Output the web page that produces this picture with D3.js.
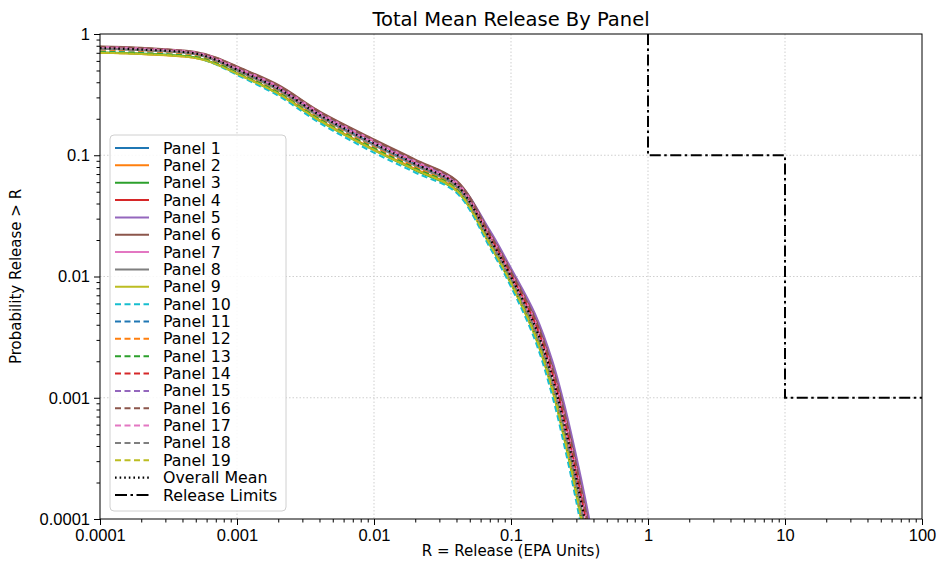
<!DOCTYPE html>
<html>
<head>
<meta charset="utf-8">
<script src="https://cdn.jsdelivr.net/npm/d3@7"></script>
<style>
  body { margin: 0; background: #fff; }
  svg { font-family: "DejaVu Sans", sans-serif; }
  .axis text { font-size: 16.5px; fill: #000; }
  .axis path { display: none; }
  .axis line { stroke: #000; stroke-width: 1; }
  .grid line { stroke: #cfcfcf; stroke-width: 1; stroke-dasharray: 1.5,2; }
</style>
</head>
<body>
<svg width="940" height="569"></svg>
<script>
// shared release grid (EPA units)
var releaseX = [1e-4, 2e-4, 5e-4, 7e-4, 1e-3, 2e-3, 4e-3, 1e-2, 2e-2, 4e-2, 7e-2, 0.1, 0.15, 0.2, 0.25, 0.3, 0.35, 0.4];

// probability release > R, one array per panel
var panel1  = [0.76, 0.74, 0.685, 0.608, 0.505, 0.35, 0.212, 0.123, 0.084, 0.056, 0.0196, 0.0094, 0.00358, 0.00133, 0.000485, 0.000188, 0.0000787, 0.0000353];
var panel2  = [0.70, 0.685, 0.635, 0.568, 0.475, 0.325, 0.196, 0.112, 0.077, 0.052, 0.0186, 0.00887, 0.0033, 0.0012, 0.000428, 0.000164, 0.0000677, 0.00003];
var panel3  = [0.705, 0.69, 0.64, 0.567, 0.47, 0.32, 0.192, 0.110, 0.075, 0.051, 0.0184, 0.0088, 0.00325, 0.00118, 0.00042, 0.00016, 0.000066, 0.000029];
var panel4  = [0.775, 0.755, 0.70, 0.627, 0.525, 0.365, 0.222, 0.130, 0.088, 0.059, 0.0217, 0.0105, 0.0042, 0.00165, 0.000624, 0.000248, 0.000106, 0.000048];
var panel5  = [0.78, 0.76, 0.70, 0.63, 0.53, 0.37, 0.225, 0.132, 0.090, 0.061, 0.024, 0.0117, 0.0049, 0.00203, 0.0008, 0.000326, 0.000143, 0.000065];
var panel6  = [0.79, 0.77, 0.71, 0.64, 0.54, 0.38, 0.23, 0.135, 0.092, 0.062, 0.023, 0.0111, 0.00455, 0.00183, 0.00071, 0.000284, 0.000123, 0.0000555];
var panel7  = [0.78, 0.76, 0.705, 0.632, 0.53, 0.37, 0.225, 0.131, 0.089, 0.060, 0.0222, 0.0107, 0.0043, 0.0017, 0.00065, 0.00026, 0.000111, 0.00005];
var panel8  = [0.755, 0.735, 0.68, 0.603, 0.50, 0.345, 0.208, 0.121, 0.082, 0.055, 0.0199, 0.0096, 0.00368, 0.00137, 0.0005, 0.000196, 0.000082, 0.000037];
var panel9  = [0.70, 0.685, 0.635, 0.565, 0.47, 0.32, 0.193, 0.110, 0.076, 0.051, 0.0183, 0.0087, 0.0032, 0.00116, 0.000412, 0.000157, 0.000064, 0.0000285];
var panel10 = [0.72, 0.70, 0.64, 0.561, 0.46, 0.31, 0.185, 0.105, 0.072, 0.049, 0.0174, 0.00824, 0.00297, 0.00104, 0.000364, 0.000138, 0.0000555, 0.000025];
var panel11 = [0.75, 0.73, 0.675, 0.598, 0.495, 0.34, 0.205, 0.119, 0.081, 0.054, 0.0193, 0.0092, 0.0035, 0.00129, 0.00047, 0.00018, 0.000075, 0.000034];
var panel12 = [0.745, 0.725, 0.67, 0.592, 0.49, 0.338, 0.203, 0.118, 0.080, 0.0535, 0.0191, 0.0091, 0.00345, 0.00126, 0.00046, 0.000176, 0.000073, 0.000033];
var panel13 = [0.71, 0.695, 0.645, 0.575, 0.48, 0.328, 0.198, 0.114, 0.078, 0.0525, 0.0188, 0.0089, 0.00335, 0.00122, 0.000438, 0.000168, 0.00007, 0.000031];
var panel14 = [0.77, 0.75, 0.695, 0.622, 0.52, 0.36, 0.22, 0.128, 0.087, 0.058, 0.0214, 0.0103, 0.0041, 0.0016, 0.0006, 0.00024, 0.000101, 0.000046];
var panel15 = [0.775, 0.755, 0.70, 0.627, 0.525, 0.365, 0.223, 0.130, 0.088, 0.060, 0.0234, 0.0113, 0.0047, 0.00191, 0.00074, 0.0003, 0.00013, 0.000059];
var panel16 = [0.785, 0.765, 0.705, 0.635, 0.535, 0.375, 0.228, 0.133, 0.091, 0.061, 0.0226, 0.0109, 0.00445, 0.00178, 0.00069, 0.000275, 0.000118, 0.000053];
var panel17 = [0.765, 0.745, 0.69, 0.616, 0.515, 0.355, 0.216, 0.126, 0.086, 0.0575, 0.0202, 0.0097, 0.00375, 0.0014, 0.00052, 0.000205, 0.000086, 0.000039];
var panel18 = [0.755, 0.735, 0.68, 0.603, 0.50, 0.345, 0.209, 0.121, 0.083, 0.0555, 0.0198, 0.0095, 0.00364, 0.00135, 0.00049, 0.000192, 0.00008, 0.000036];
var panel19 = [0.70, 0.685, 0.635, 0.565, 0.47, 0.322, 0.194, 0.111, 0.076, 0.0515, 0.0185, 0.00883, 0.00327, 0.00119, 0.000424, 0.000162, 0.000067, 0.0000295];
var overallMean = [0.765, 0.745, 0.69, 0.613, 0.51, 0.355, 0.215, 0.125, 0.085, 0.057, 0.0206, 0.00993, 0.00388, 0.00148, 0.00055, 0.000216, 0.000091, 0.000041];

// release limit step line
var limitX = [1, 1, 10, 10, 100];
var limitY = [1, 0.1, 0.1, 0.001, 0.001];

// tick labels
var xTicks = [1e-4, 1e-3, 1e-2, 0.1, 1, 10, 100];
var xTickLabels = ['0.0001', '0.001', '0.01', '0.1', '1', '10', '100'];
var yTicks = [1e-4, 1e-3, 1e-2, 0.1, 1];
var yTickLabels = ['0.0001', '0.001', '0.01', '0.1', '1'];

var panelValues = [panel1, panel2, panel3, panel4, panel5, panel6, panel7, panel8, panel9, panel10,
    panel11, panel12, panel13, panel14, panel15, panel16, panel17, panel18, panel19];
var tab10 = ['#1f77b4', '#ff7f0e', '#2ca02c', '#d62728', '#9467bd', '#8c564b', '#e377c2', '#7f7f7f', '#bcbd22', '#17becf'];

var series = panelValues.map((vals, i) => ({
    name: 'Panel ' + (i + 1),
    color: tab10[i % 10],
    dash: i < 9 ? null : '6,3.5',
    width: 2,
    points: vals.map((v, j) => [releaseX[j], v])
}));
series.push({ name: 'Overall Mean', color: '#000', dash: '1.6,3', width: 2.2,
    points: overallMean.map((v, j) => [releaseX[j], v]) });
var limits = { name: 'Release Limits', color: '#000', dash: '11,3.5,2.5,3.5', width: 2,
    points: limitX.map((v, j) => [v, limitY[j]]) };

var svg = d3.select('svg');
var plotLeft = 100, plotRight = 922, plotTop = 34, plotBottom = 519;

var xScale = d3.scaleLog().domain([1e-4, 100]).range([plotLeft, plotRight]);
var yScale = d3.scaleLog().domain([1e-4, 1]).range([plotBottom, plotTop]);

// minor tick values
var xMinor = [], yMinor = [];
xTicks.slice(0, -1).forEach(t => { for (var k = 2; k < 10; k++) xMinor.push(t * k); });
yTicks.slice(0, -1).forEach(t => { for (var k = 2; k < 10; k++) yMinor.push(t * k); });

//grid
var grid = svg.append('g').attr('class', 'grid');
grid.selectAll('line.gx')
    .data(xTicks.slice(1, -1))
    .enter().append('line')
    .attr('class', 'gx')
    .attr('x1', d => xScale(d)).attr('x2', d => xScale(d))
    .attr('y1', plotTop).attr('y2', plotBottom);
grid.selectAll('line.gy')
    .data(yTicks.slice(1, -1))
    .enter().append('line')
    .attr('class', 'gy')
    .attr('y1', d => yScale(d)).attr('y2', d => yScale(d))
    .attr('x1', plotLeft).attr('x2', plotRight);

//clip curves to the plot area
svg.append('clipPath').attr('id', 'plot-clip')
    .append('rect')
    .attr('x', plotLeft).attr('y', plotTop)
    .attr('width', plotRight - plotLeft).attr('height', plotBottom - plotTop);

var line = d3.line()
    .x(d => xScale(d[0]))
    .y(d => yScale(d[1]))
    .curve(d3.curveCatmullRom.alpha(0.5));

var plot = svg.append('g').attr('clip-path', 'url(#plot-clip)');
plot.selectAll('.series')
    .data(series)
    .enter().append('path')
    .attr('class', 'series')
    .attr('d', d => line(d.points))
    .attr('fill', 'none')
    .attr('stroke', d => d.color)
    .attr('stroke-width', d => d.width)
    .attr('stroke-dasharray', d => d.dash);

plot.append('path')
    .attr('d', d3.line().x(d => xScale(d[0])).y(d => yScale(d[1]))(limits.points))
    .attr('fill', 'none')
    .attr('stroke', limits.color)
    .attr('stroke-width', limits.width)
    .attr('stroke-dasharray', limits.dash);

//axes
var xAxis = d3.axisBottom(xScale).tickValues(xTicks).tickSize(6).tickPadding(4)
    .tickFormat((d, i) => xTickLabels[i]);
var xAxisMinor = d3.axisBottom(xScale).tickValues(xMinor).tickSize(3.5).tickFormat('');
var yAxis = d3.axisLeft(yScale).tickValues(yTicks).tickSize(6).tickPadding(4)
    .tickFormat((d, i) => yTickLabels[i]);
var yAxisMinor = d3.axisLeft(yScale).tickValues(yMinor).tickSize(3.5).tickFormat('');

svg.append('g').attr('class', 'x axis').attr('transform', 'translate(0,' + plotBottom + ')').call(xAxis);
svg.append('g').attr('class', 'x axis').attr('transform', 'translate(0,' + plotBottom + ')').call(xAxisMinor);
svg.append('g').attr('class', 'y axis').attr('transform', 'translate(' + plotLeft + ',0)').call(yAxis);
svg.append('g').attr('class', 'y axis').attr('transform', 'translate(' + plotLeft + ',0)').call(yAxisMinor);

//frame
svg.append('rect')
    .attr('x', plotLeft).attr('y', plotTop)
    .attr('width', plotRight - plotLeft).attr('height', plotBottom - plotTop)
    .attr('fill', 'none')
    .attr('stroke', '#000')
    .attr('stroke-width', 1);

//labels
svg.append('text')
    .attr('x', (plotLeft + plotRight) / 2).attr('y', 26)
    .attr('text-anchor', 'middle')
    .style('font-size', '19.5px')
    .text('Total Mean Release By Panel');

svg.append('text')
    .attr('x', (plotLeft + plotRight) / 2).attr('y', 556)
    .attr('text-anchor', 'middle')
    .style('font-size', '15px')
    .text('R = Release (EPA Units)');

svg.append('text')
    .attr('transform', 'translate(21,' + ((plotTop + plotBottom) / 2) + ') rotate(-90)')
    .attr('text-anchor', 'middle')
    .style('font-size', '15px')
    .text('Probability Release > R');

//legend
var legendItems = series.concat([limits]);
var legend = svg.append('g').attr('transform', 'translate(110,135)');
legend.append('rect')
    .attr('width', 176).attr('height', 376)
    .attr('rx', 4)
    .attr('fill', '#fff').attr('fill-opacity', 0.85)
    .attr('stroke', '#d0d0d0');

var rowH = 17.35;
var entry = legend.selectAll('.entry')
    .data(legendItems)
    .enter().append('g')
    .attr('class', 'entry')
    .attr('transform', (d, i) => 'translate(0,' + (13 + i * rowH) + ')');
entry.append('line')
    .attr('x1', 5).attr('x2', 39)
    .attr('stroke', d => d.color)
    .attr('stroke-width', d => d.width)
    .attr('stroke-dasharray', d => d.name === 'Release Limits' ? '12,3.5,2.5,3.5' : d.dash);
entry.append('text')
    .attr('x', 53).attr('y', 5.5)
    .style('font-size', '15.8px')
    .text(d => d.name);
</script>
</body>
</html>
